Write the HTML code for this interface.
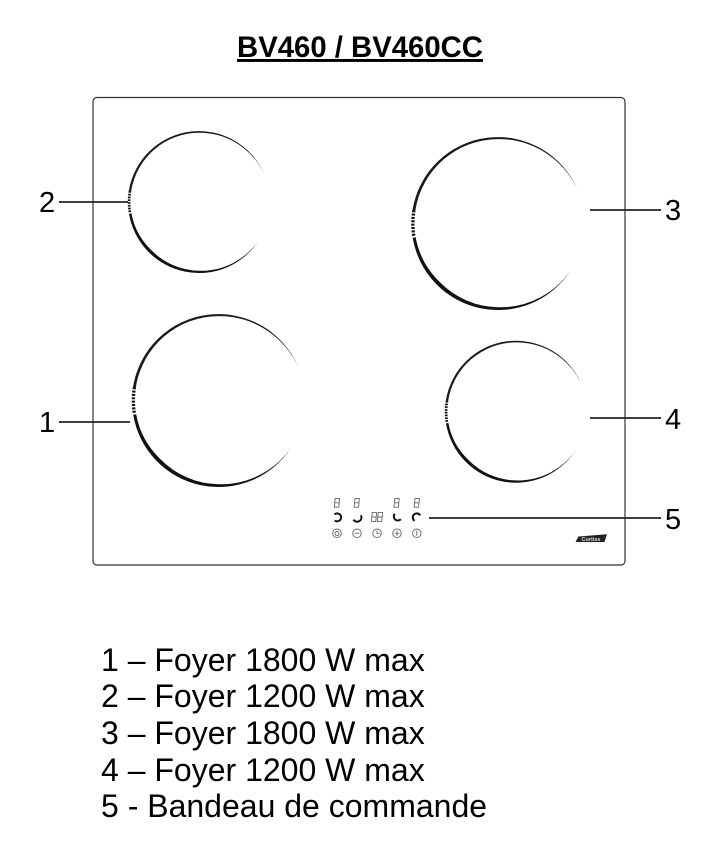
<!DOCTYPE html>
<html><head><meta charset="utf-8"><style>
html,body{margin:0;padding:0;background:#fff}
svg{display:block}
text{font-family:"Liberation Sans",sans-serif;fill:#000}
</style></head><body>
<svg width="718" height="842" viewBox="0 0 718 842" xmlns="http://www.w3.org/2000/svg">
<defs>
<g id="burner">
<path d="M-98.8 -15.6A100 100 0 0 1 92 -39A99.6 99.6 0 0 0 63.4 -75.6A99 99 0 0 0 0 -97.6A97.3 97.3 0 0 0 -95.6 -15.1Z" fill="#1a1a1a"/>
<path d="M-98.6 16.5A100 100 0 0 0 83.9 54.5A99.6 99.6 0 0 1 49.2 85.3A98.2 98.2 0 0 1 0 96.8A96.2 96.2 0 0 1 -67.5 67.5A96 96 0 0 1 -95.2 15.9Z" fill="#111"/>
<path d="M-97.2 -15.4A98.4 98.4 0 0 0 -97.2 15.4" fill="none" stroke="#111" stroke-width="3.8" stroke-dasharray="2.4 1.5"/>
</g>
<g id="seg" fill="none" stroke="#666" stroke-width=".9"><path d="M-1.8 -4.4H2.6L1.8 4.4H-2.6ZM-2.2 0H2.2"/></g>
</defs>

<text x="360" y="57" font-size="29.3" font-weight="bold" text-anchor="middle" text-decoration="underline">BV460 / BV460CC</text>

<rect x="93" y="97.5" width="532" height="467.5" rx="4" fill="#fff" stroke="#333" stroke-width="1.2"/>

<use href="#burner" transform="translate(199 202) scale(.71)"/>
<use href="#burner" transform="translate(218.5 400.5) scale(.865)"/>
<use href="#burner" transform="translate(498 223.5) scale(.865)"/>
<use href="#burner" transform="translate(516 411.7) scale(.71)"/>

<g stroke="#222" stroke-width="1.8" fill="none">
<path d="M59 202H128"/>
<path d="M59 422H130"/>
<path d="M590 210H661"/>
<path d="M590 418H661"/>
<path d="M429 518H661"/>
</g>

<g font-size="29">
<text x="39" y="212">2</text>
<text x="39" y="432">1</text>
<text x="665" y="220">3</text>
<text x="665" y="429">4</text>
<text x="665" y="529">5</text>
</g>

<!-- control panel -->
<use href="#seg" x="337" y="502.8"/>
<use href="#seg" x="356.8" y="502.8"/>
<use href="#seg" x="396.6" y="502.8"/>
<use href="#seg" x="416.8" y="502.8"/>
<use href="#seg" x="374" y="517"/>
<use href="#seg" x="380" y="517"/>

<g fill="none" stroke="#111" stroke-width="2">
<path d="M334.4 514.4A4 4 0 1 1 334.8 520.6"/>
<path d="M360.9 515.2A4 4 0 0 1 353.4 519.6"/>
<path d="M394.8 513.8A4 4 0 1 0 400.8 519.2"/>
<path d="M420.2 515.4A4 4 0 1 0 414.6 520.8"/>
</g>

<g fill="none" stroke="#666" stroke-width=".9">
<circle cx="337" cy="533.3" r="4.3"/><circle cx="337" cy="533.5" r="2"/>
<circle cx="357" cy="533.3" r="4.3"/><path d="M354.6 533.3H359.4"/>
<circle cx="377" cy="533.3" r="4.3"/><path d="M377 530.6V533.3H379.8"/>
<circle cx="397" cy="533.3" r="4.3"/><path d="M394.6 533.3H399.4M397 530.9V535.7"/>
<circle cx="416.8" cy="533.3" r="4.3"/><path d="M416.8 530.6V535.8"/>
</g>

<path d="M578.5 536.5L607 534.3L604.5 542H575.5Z" fill="#222"/>
<text x="591" y="541" font-size="5.5" font-weight="bold" text-anchor="middle" style="fill:#ddd">Curtiss</text>

<g font-size="32">
<text x="101" y="671">1 – Foyer 1800 W max</text>
<text x="101" y="707">2 – Foyer 1200 W max</text>
<text x="101" y="744">3 – Foyer 1800 W max</text>
<text x="101" y="781">4 – Foyer 1200 W max</text>
<text x="101" y="817">5 - Bandeau de commande</text>
</g>
</svg>
</body></html>
